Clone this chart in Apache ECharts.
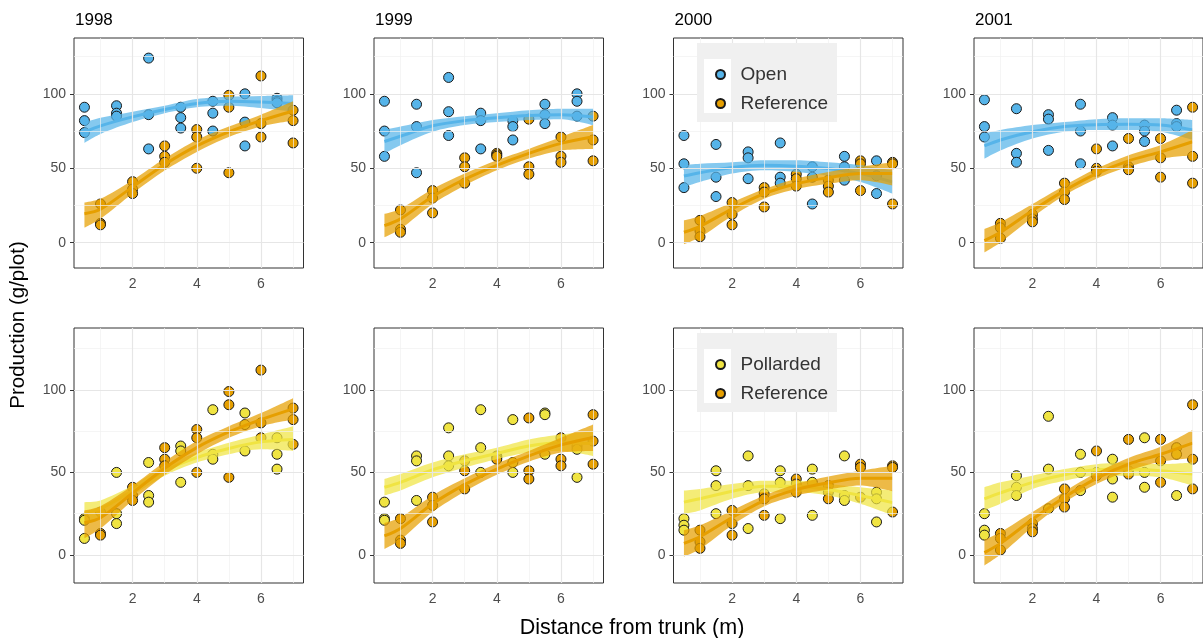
<!DOCTYPE html>
<html><head><meta charset="utf-8">
<script src="https://cdn.jsdelivr.net/npm/echarts@6/dist/echarts.min.js"></script>
<style>html,body{margin:0;padding:0;background:#fff}#c{width:1203px;height:638px}</style>
</head><body><div id="c"></div>
<script>
// ---------- data ----------
const years = ['1998', '1999', '2000', '2001'];
const distHalf = [0.5, 1.5, 2.5, 3.5, 4.5, 5.5, 6.5];   // Open / Pollarded plots
const distInt = [1, 2, 3, 4, 5, 6, 7];                   // Reference plots
const fitX = [0.5, 1, 2, 3, 4, 5, 6, 7];
const xMajorTicks = [2, 4, 6];
const xMinorTicks = [1, 3, 5, 7];
const yMajorTicks = [0, 50, 100];
const yMinorTicks = [25, 75, 125];

const open1998 = [[91,82,74],[92,87,85],[124,86,63],[91,84,77],[95,87,75],[100,81,65],[97,95,94]];
const open1999 = [[95,75,58],[93,78,47],[111,88,72],[87,82,63],[82,78,69],[93,86,80],[100,95,85]];
const open2000 = [[72,53,37],[66,44,31],[61,57,43],[67,44,40],[51,44,26],[58,51,42],[55,45,33]];
const open2001 = [[96,78,71],[90,60,54],[86,83,62],[93,75,53],[84,79,65],[79,75,68],[89,80,78]];

const ref1998 = [[26,13,12],[41,36,33],[65,58,54],[76,71,50],[99,91,47],[112,80,71],[89,82,67]];
const ref1999 = [[22,9,7],[35,30,20],[57,51,40],[60,59,58],[83,51,46],[71,58,54],[85,69,55]];
const ref2000 = [[15,8,4],[27,19,12],[37,34,24],[46,43,38],[42,38,34],[55,53,35],[54,53,26]];
const ref2001 = [[13,10,3],[19,16,14],[40,34,29],[63,50,48],[70,51,49],[70,57,44],[91,58,40]];

const pol1998 = [[22,21,10],[50,25,19],[56,36,32],[66,63,44],[88,61,58],[86,79,63],[71,61,52]];
const pol1999 = [[32,22,21],[60,57,33],[77,60,54],[88,65,50],[82,56,50],[86,85,61],[66,64,47]];
const pol2000 = [[22,18,15],[51,42,25],[60,42,16],[51,44,22],[52,44,24],[60,36,33],[38,34,20]];
const pol2001 = [[25,15,12],[48,41,36],[84,52,28],[61,50,39],[58,46,35],[71,50,41],[65,61,36]];

// fitted curves (mean, lower, upper) read at fitX
const openFitMean = [[74.5,78.5,84.5,89.5,93.5,95,94.5,93.5],[68,71.5,78.5,82,84,85.5,86,84.5],[44.8,47,50.5,52,51.4,49.8,46.4,40.8],[65,69,74.5,78,79.3,79.5,79,75.7]];
const openFitLo   = [[67,73,81,87,91,92,90.5,88],[60,65.5,74.5,79,81,82.4,83,79],[37.4,40.8,46.4,48.6,47.5,45,40.8,32.9],[56.5,62,70,74.5,75.7,75.7,74.5,69]];
const openFitHi   = [[81,84,88,92,96.5,98,98.5,99],[75.7,78,82.4,85,87,89,90,90],[52,53,54,55.4,55.4,54,52,48.6],[73.4,75.7,79,81,83,83.6,83.6,82.4]];

const refFitMean = [[19.5,22.5,37.5,52.5,65,74.5,82,88.5],[11.5,16,31,42.6,52,60,66.7,71.2],[7,11,22.7,32.9,39.6,43.7,46.4,46.4],[1.4,7,21.6,35,46.4,55,61,67.8]];
const refFitLo   = [[10,16,33,48.5,61,71,78,82],[3.6,9.2,26,38.5,48.6,56.5,62,63],[-1,3.6,18,29.5,36,39.6,42,38.5],[-6.5,0.2,17,31.8,43,51,56.5,58.8]];
const refFitHi   = [[27,29.5,42,56.5,69,78,86,95],[19.4,22.7,36,46.4,55.4,63,71,79],[15,18,27,36,43,47.5,51,54],[9.2,13.7,26,38.5,49.8,58.8,65.5,75.7]];

const polFitMean = [[25.5,28,39,51,59,64.5,68.5,70],[41,44,51.6,57,61.5,66,68,67.5],[32,34,38.6,41.6,41.6,39.6,36,31.7],[34,37.6,44,48.6,51.6,52,51,49]];
const polFitLo   = [[19,23,36,48,56,61,64,63],[36,39,47,53,58,62,63,60],[25,27,34,38,38,36,31,24],[27,31,40,45,48,48,47,42]];
const polFitHi   = [[32,33,42,54,62,68,73,78],[46,49,56,61,65,70,73,75],[39,40,43,45,45,43,41,39],[41,44,48,52,55,56,55,56]];

// ---------- layout / style ----------
const FONT = 'Liberation Sans, Arial, sans-serif';
const panelLeft = [74, 374, 673.5, 974];
const rowTop = [38, 328];
const rowHeight = [230, 255];
const panelWidth = 229.5;
const xMin = 0.175, xMax = 7.325, yMin = -17, yMax = 137.5;
const colors = { Open: '#56B4E9', Reference: '#E69F00', Pollarded: '#F0E442' };

const openVals = [open1998, open1999, open2000, open2001];
const refVals = [ref1998, ref1999, ref2000, ref2001];
const polVals = [pol1998, pol1999, pol2000, pol2001];

const grids = [], xAxes = [], yAxes = [], series = [];

function pts(dists, vals) {
  const out = [];
  dists.forEach((d, i) => vals[i].forEach(v => out.push([d, v])));
  return out;
}

function addPanel(row, col, treat, tVals, tMean, tLo, tHi) {
  const g = grids.length;
  grids.push({ left: panelLeft[col], top: rowTop[row], width: panelWidth, height: rowHeight[row],
    show: true, borderColor: '#333', borderWidth: 1, backgroundColor: 'transparent', containLabel: false });
  const vx = xAxes.length;
  xAxes.push({ type: 'value', gridIndex: g, min: xMin, max: xMax,
    axisLine: { show: false }, splitLine: { show: false },
    axisTick: { show: true, customValues: xMajorTicks, length: 4, lineStyle: { color: '#333', width: 1 } },
    axisLabel: { customValues: xMajorTicks, fontSize: 14, color: '#4d4d4d', margin: 9, fontFamily: FONT } });
  // hidden linear twin axis (same extent) so that the band's lower/upper stacking acts on y
  const tx = xAxes.length;
  xAxes.push({ type: 'time', gridIndex: g, min: xMin, max: xMax, show: false,
    axisLine: { show: false }, axisTick: { show: false }, axisLabel: { show: false }, splitLine: { show: false } });
  yAxes.push({ type: 'value', gridIndex: g, min: yMin, max: yMax,
    axisLine: { show: false }, splitLine: { show: false },
    axisTick: { show: true, customValues: yMajorTicks, length: 4, lineStyle: { color: '#333', width: 1 } },
    axisLabel: { customValues: yMajorTicks, fontSize: 14, color: '#4d4d4d', margin: 8, fontFamily: FONT } });

  // grid lines through the axes' scales
  const ml = [];
  xMinorTicks.forEach(v => ml.push({ xAxis: v, lineStyle: { color: '#f0f0f0', width: 0.7, type: 'solid' } }));
  yMinorTicks.forEach(v => ml.push({ yAxis: v, lineStyle: { color: '#f0f0f0', width: 0.7, type: 'solid' } }));
  xMajorTicks.forEach(v => ml.push({ xAxis: v, lineStyle: { color: '#e6e6e6', width: 1.2, type: 'solid' } }));
  yMajorTicks.forEach(v => ml.push({ yAxis: v, lineStyle: { color: '#e6e6e6', width: 1.2, type: 'solid' } }));
  series.push({ type: 'line', name: 'grid' + g, xAxisIndex: vx, yAxisIndex: g, data: [], z: 1, silent: true,
    markLine: { silent: true, symbol: ['none', 'none'], label: { show: false }, animation: false, data: ml } });

  const groups = [
    { name: treat, vals: pts(distHalf, tVals), mean: tMean, lo: tLo, hi: tHi, z: 3 },
    { name: 'Reference', vals: pts(distInt, refVals[col]), mean: refFitMean[col], lo: refFitLo[col], hi: refFitHi[col], z: 4 }
  ];
  groups.forEach(gr => {
    series.push({ type: 'scatter', name: gr.name, xAxisIndex: vx, yAxisIndex: g, data: gr.vals,
      symbol: 'circle', symbolSize: 10, z: 2,
      itemStyle: { color: colors[gr.name], borderColor: '#1a1a1a', borderWidth: 1, opacity: 1 } });
  });
  groups.forEach(gr => {
    const stackId = 'band' + g + gr.name;
    series.push({ type: 'line', name: gr.name, xAxisIndex: tx, yAxisIndex: g, stack: stackId, stackStrategy: 'all',
      data: fitX.map((x, k) => [x, gr.lo[k]]), smooth: 0.3, symbol: 'none', silent: true, z: gr.z,
      lineStyle: { opacity: 0, width: 0 } });
    series.push({ type: 'line', name: gr.name, xAxisIndex: tx, yAxisIndex: g, stack: stackId, stackStrategy: 'all',
      data: fitX.map((x, k) => [x, gr.hi[k] - gr.lo[k]]), smooth: 0.3, symbol: 'none', silent: true, z: gr.z,
      lineStyle: { opacity: 0, width: 0 }, areaStyle: { color: colors[gr.name], opacity: 0.72 } });
    series.push({ type: 'line', name: gr.name, xAxisIndex: vx, yAxisIndex: g,
      data: fitX.map((x, k) => [x, gr.mean[k]]), smooth: 0.3, symbol: 'none', silent: true, z: gr.z,
      lineStyle: { color: colors[gr.name], width: 3 } });
  });
}

for (let c = 0; c < 4; c++) addPanel(0, c, 'Open', openVals[c], openFitMean[c], openFitLo[c], openFitHi[c]);
for (let c = 0; c < 4; c++) addPanel(1, c, 'Pollarded', polVals[c], polFitMean[c], polFitLo[c], polFitHi[c]);

const legendCommon = { orient: 'vertical', left: 715, itemWidth: 30, itemHeight: 9, itemGap: 10, padding: 0,
  z: 11, textStyle: { fontSize: 19, color: '#333', lineHeight: 18, fontFamily: FONT } };

const option = {
  animation: false,
  backgroundColor: '#fff',
  textStyle: { fontFamily: FONT },
  title: years.map((y, i) => ({ text: y, left: panelLeft[i] + 1, top: 12, padding: 0,
    textStyle: { fontSize: 17, fontWeight: 'normal', color: '#000', fontFamily: FONT } })),
  grid: grids, xAxis: xAxes, yAxis: yAxes, series: series,
  legend: [
    Object.assign({}, legendCommon, { top: 65, data: ['Open', 'Reference'] }),
    Object.assign({}, legendCommon, { top: 355, data: ['Pollarded', 'Reference'] })
  ],
  graphic: [
    { type: 'rect', z: 10, silent: true, shape: { x: 697, y: 43, width: 140, height: 79 }, style: { fill: '#f0f0f0' } },
    { type: 'rect', z: 10, silent: true, shape: { x: 704, y: 59, width: 27, height: 54 }, style: { fill: '#ffffff' } },
    { type: 'rect', z: 10, silent: true, shape: { x: 697, y: 333, width: 140, height: 79 }, style: { fill: '#f0f0f0' } },
    { type: 'rect', z: 10, silent: true, shape: { x: 704, y: 349, width: 27, height: 54 }, style: { fill: '#ffffff' } },
    { type: 'text', z: 10, silent: true, x: 18, y: 325, rotation: Math.PI / 2,
      style: { text: 'Production (g/plot)', fontSize: 20.5, fill: '#000', fontFamily: FONT, textAlign: 'center', textVerticalAlign: 'middle' } },
    { type: 'text', z: 10, silent: true, x: 632, y: 628,
      style: { text: 'Distance from trunk (m)', fontSize: 21.5, fill: '#000', fontFamily: FONT, textAlign: 'center', textVerticalAlign: 'middle' } }
  ]
};

const chart = echarts.init(document.getElementById('c'), null, { renderer: 'canvas' });
chart.setOption(option);
</script>
</body></html>
